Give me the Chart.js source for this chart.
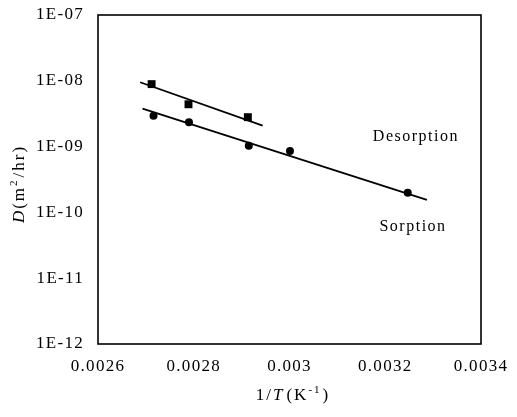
<!DOCTYPE html>
<html>
<head>
<meta charset="utf-8">
<script src="https://cdn.jsdelivr.net/npm/chart.js@4"></script>
<style>
  html, body { margin: 0; padding: 0; background: #fff; }
  #wrap { width: 517px; height: 417px; }
</style>
</head>
<body>
<div id="wrap"><canvas id="c" width="517" height="417"></canvas></div>
<script>
// Axis ticks
const xTicks = [0.0026, 0.0028, 0.003, 0.0032, 0.0034];
const xTickLabels = ['0.0026', '0.0028', '0.003', '0.0032', '0.0034'];
const yTicks = [1e-12, 1e-11, 1e-10, 1e-9, 1e-8, 1e-7];
const yTickLabels = ['1E-12', '1E-11', '1E-10', '1E-09', '1E-08', '1E-07'];

// Measured diffusion coefficients, D (m2/hr) against 1/T (1/K)
const desorptionX = [0.002712, 0.002789, 0.002913];
const desorptionD = [8.9e-9, 4.4e-9, 2.8e-9];
const sorptionX = [0.002716, 0.002790, 0.002915, 0.003001, 0.003247];
const sorptionD = [2.95e-9, 2.34e-9, 1.03e-9, 8.6e-10, 1.99e-10];

// Arrhenius fit lines (end points)
const desorptionFitX = [0.002688, 0.002944];
const desorptionFitD = [9.5e-9, 2.08e-9];
const sorptionFitX = [0.002693, 0.003287];
const sorptionFitD = [3.77e-9, 1.55e-10];

// Curve names written beside the lines
const curveNames = ['Desorption', 'Sorption'];
const curveNameX = [0.003264, 0.003258];
const curveNameD = [1.40e-9, 6.0e-11];

const SERIF = '"Liberation Serif", "Times New Roman", serif';
const zip = (xs, ys) => xs.map((x, i) => ({ x: x, y: ys[i] }));

// Draws a run of text pieces (plain / italic / superscript) centred at (cx, cy)
function drawRich(ctx, parts, cx, cy, angle) {
  ctx.save();
  ctx.translate(cx, cy);
  ctx.rotate(angle || 0);
  ctx.textBaseline = 'middle';
  ctx.textAlign = 'left';
  ctx.fillStyle = '#000';
  const fontOf = p => (p.italic ? 'italic ' : '') + (p.sup ? '11px ' : '17px ') + SERIF;
  let total = 0;
  parts.forEach(p => { ctx.font = fontOf(p); total += ctx.measureText(p.t).width + (p.gap || 0); });
  let x = -total / 2;
  parts.forEach(p => {
    ctx.font = fontOf(p);
    ctx.fillText(p.t, x, p.sup ? -6 : 0);
    x += ctx.measureText(p.t).width + (p.gap || 0);
  });
  ctx.restore();
}

const decorations = {
  id: 'decorations',
  beforeDraw(chart) {
    chart.ctx.letterSpacing = '1.3px';
  },
  afterDraw(chart) {
    const ctx = chart.ctx;
    const a = chart.chartArea;
    const xs = chart.scales.x, ys = chart.scales.y;
    ctx.save();
    // plot frame
    ctx.strokeStyle = '#000';
    ctx.lineWidth = 1.6;
    ctx.strokeRect(a.left, a.top, a.right - a.left, a.bottom - a.top);
    // curve names
    ctx.letterSpacing = '1.5px';
    ctx.fillStyle = '#000';
    ctx.font = '16px ' + SERIF;
    ctx.textAlign = 'center';
    ctx.textBaseline = 'middle';
    curveNames.forEach((n, i) => {
      ctx.fillText(n, xs.getPixelForValue(curveNameX[i]), ys.getPixelForValue(curveNameD[i]));
    });
    ctx.restore();
    // axis titles
    ctx.letterSpacing = '2px';
    drawRich(ctx, [
      { t: '1/' }, { t: 'T', italic: true, gap: 2 }, { t: '(K' }, { t: '-1', sup: true, gap: 1 }, { t: ')' }
    ], 293, 396, 0);
    drawRich(ctx, [
      { t: 'D', italic: true }, { t: '(m' }, { t: '2', sup: true, gap: 1 }, { t: '/hr)' }
    ], 20, 184, -Math.PI / 2);
    ctx.letterSpacing = '0px';
  }
};

new Chart(document.getElementById('c'), {
  type: 'scatter',
  data: {
    datasets: [
      {
        label: 'Desorption fit',
        data: zip(desorptionFitX, desorptionFitD),
        showLine: true, borderColor: '#000', borderWidth: 1.8,
        pointRadius: 0, fill: false
      },
      {
        label: 'Sorption fit',
        data: zip(sorptionFitX, sorptionFitD),
        showLine: true, borderColor: '#000', borderWidth: 1.8,
        pointRadius: 0, fill: false
      },
      {
        label: 'Desorption',
        data: zip(desorptionX, desorptionD),
        pointStyle: 'rect', pointRadius: 5.6,
        backgroundColor: '#000', borderColor: '#000', borderWidth: 0
      },
      {
        label: 'Sorption',
        data: zip(sorptionX, sorptionD),
        pointStyle: 'circle', pointRadius: 4,
        backgroundColor: '#000', borderColor: '#000', borderWidth: 0
      }
    ]
  },
  options: {
    responsive: false,
    animation: false,
    layout: { padding: { top: 15, right: 36, left: 0, bottom: 0 } },
    plugins: { legend: { display: false }, tooltip: { enabled: false } },
    scales: {
      x: {
        type: 'linear',
        min: xTicks[0], max: xTicks[xTicks.length - 1],
        afterBuildTicks: s => { s.ticks = xTicks.map(v => ({ value: v })); },
        afterFit: s => { s.height = 73; s.paddingLeft = 0; s.paddingRight = 0; },
        grid: { display: false, drawTicks: false },
        border: { display: false },
        ticks: {
          color: '#000', padding: 12, maxRotation: 0, autoSkip: false,
          font: { family: SERIF, size: 17 },
          callback: (v, i) => xTickLabels[i]
        }
      },
      y: {
        type: 'logarithmic',
        min: yTicks[0], max: yTicks[yTicks.length - 1],
        afterBuildTicks: s => { s.ticks = yTicks.map(v => ({ value: v })); },
        afterFit: s => { s.width = 98; s.paddingTop = 0; s.paddingBottom = 0; },
        grid: { display: false, drawTicks: false },
        border: { display: false },
        ticks: {
          color: '#000', padding: 14, autoSkip: false,
          font: { family: SERIF, size: 17 },
          callback: (v, i) => yTickLabels[i]
        }
      }
    }
  },
  plugins: [decorations]
});
</script>
</body>
</html>
